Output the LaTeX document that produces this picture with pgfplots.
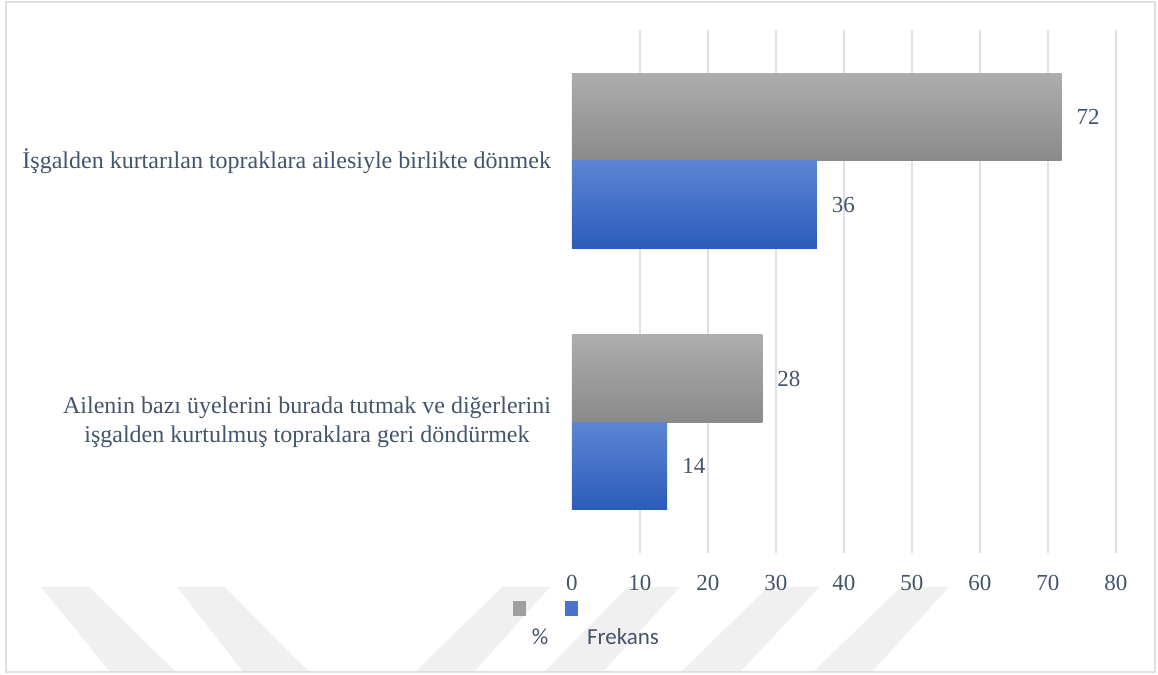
\documentclass[border=0pt]{standalone}
\usepackage{fontspec}
\setmainfont{Liberation Serif}
\newfontfamily\legfont{Carlito}
\usepackage{pgfplots}
\pgfplotsset{compat=1.18}
\definecolor{txt}{HTML}{44546A}
\definecolor{gridc}{HTML}{DDE2EA}
\definecolor{grayT}{HTML}{ADADAD}
\definecolor{grayB}{HTML}{8A8A8A}
\definecolor{blueT}{HTML}{5C85D4}
\definecolor{blueB}{HTML}{2B5CBA}
\definecolor{wm}{HTML}{F0F0F0}
\definecolor{framec}{HTML}{DCE0E5}
\begin{document}
\begin{tikzpicture}
% decorations in pixel coordinates (origin top left)
\begin{scope}[x=0.5pt,y=-0.5pt,yshift=337.5pt]
  \useasboundingbox (0,0) rectangle (1158,675);
  \begin{scope}
    \clip (6,2) rectangle (1155,672);
    \fill[wm] (41,587) -- (89,587) -- (177,673) -- (111,673) -- cycle;
    \fill[wm] (177,587) -- (225,587) -- (310,673) -- (244,673) -- cycle;
    \fill[wm] (502,587) -- (550,587) -- (473,673) -- (414,673) -- cycle;
    \fill[wm] (628,587) -- (680,587) -- (602,673) -- (543,673) -- cycle;
    \fill[wm] (768,587) -- (820,587) -- (739,673) -- (680,673) -- cycle;
    \fill[wm] (901,587) -- (949,587) -- (871,673) -- (812,673) -- cycle;
  \end{scope}
  \draw[framec, line width=1.2pt] (6,2) rectangle (1155,672);
  % legend
  \fill[gray!75] (513,601) rectangle (526,616);
  \fill[blueT!60!blueB] (565,601) rectangle (578,616);
  \node[font=\legfont\fontsize{11.5}{14}\selectfont, text=txt] at (540,637) {\%};
  \node[font=\legfont\fontsize{11.5}{14}\selectfont, text=txt] at (623,637) {Frekans};
\end{scope}
\begin{axis}[
    at={(286pt,61pt)}, anchor=south west,
    width=272pt, height=261.5pt, scale only axis,
    xbar, bar width=43.75pt,
    xmin=0, xmax=80, ymin=-0.5, ymax=1.5,
    xtick={10,20,...,80}, extra x ticks={0}, extra x tick style={grid=none},
    xmajorgrids, grid style={gridc, line width=0.9pt},
    ytick={0,1},
    yticklabels={{Ailenin bazı üyelerini burada tutmak ve diğerlerini\\işgalden kurtulmuş topraklara geri döndürmek},
                 {İşgalden kurtarılan topraklara ailesiyle birlikte dönmek}},
    axis line style={draw=none}, major tick length=0pt,
    /pgf/number format/assume math mode=true,
    tick label style={font=\fontsize{11.5}{14}\selectfont, text=txt},
    yticklabel style={font=\fontsize{12}{14.5}\selectfont, align=center, xshift=-7pt},
    xticklabel style={yshift=-7.5pt},
    nodes near coords,
    nodes near coords style={font=\fontsize{11.5}{14}\selectfont, text=txt, anchor=west, xshift=4pt},
]
% % series, one plot per bar so each bar gets its own shading
\addplot[bar shift=21.875pt, draw=none, top color=grayT, bottom color=grayB] coordinates {(72,1)};
\addplot[bar shift=21.875pt, draw=none, top color=grayT, bottom color=grayB] coordinates {(28,0)};
% Frekans
\addplot[bar shift=-21.875pt, draw=none, top color=blueT, bottom color=blueB] coordinates {(36,1)};
\addplot[bar shift=-21.875pt, draw=none, top color=blueT, bottom color=blueB] coordinates {(14,0)};
\end{axis}
\end{tikzpicture}
\end{document}
